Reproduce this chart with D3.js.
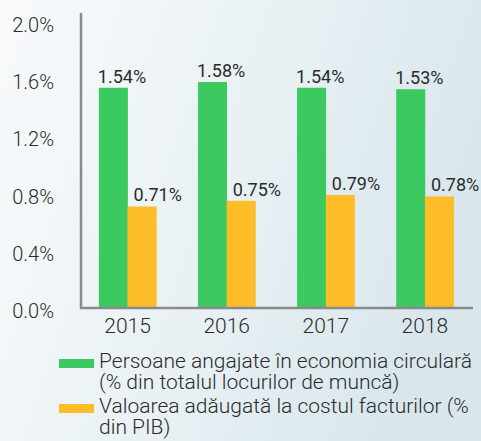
<!DOCTYPE html>
<html>
<head>
<meta charset="utf-8">
<script src="https://cdn.jsdelivr.net/npm/d3@7"></script>
<style>
  html, body { margin: 0; padding: 0; }
  body { width: 481px; height: 441px; overflow: hidden; }
  text { font-family: Roboto, "Noto Sans", sans-serif; fill: #2b2b2b; }
</style>
</head>
<body>
<svg id="chart" width="481" height="441"></svg>
<script>
const years = ["2015", "2016", "2017", "2018"]
const seriesNames = ["jobs", "gva"]
const jobsShare = [1.54, 1.58, 1.54, 1.53]
const valueAdded = [0.71, 0.75, 0.79, 0.78]
const yTicks = [0, 0.4, 0.8, 1.2, 1.6, 2.0]
const legendLines = [
    ["Persoane angajate în economia circulară", "(% din totalul locurilor de muncă)"],
    ["Valoarea adăugată la costul facturilor (%", "din PIB)"]
]
const colors = ["#3cc960", "#fdbd28"]

const svg = d3.select('#chart');

// soft background
const defs = svg.append('defs');
const grad = defs.append('linearGradient')
    .attr('id', 'bg')
    .attr('x1', 0).attr('y1', 0).attr('x2', 1).attr('y2', 0.3);
grad.append('stop').attr('offset', '0%').attr('stop-color', '#f8fafb');
grad.append('stop').attr('offset', '55%').attr('stop-color', '#e9f1f4');
grad.append('stop').attr('offset', '100%').attr('stop-color', '#d9e7ec');
svg.append('rect')
    .attr('width', 481).attr('height', 441)
    .attr('fill', 'url(#bg)');

const x = d3.scaleBand()
    .domain(years)
    .range([81, 471.5])
    .paddingInner(0.42)
    .paddingOuter(0.18);

const xs = d3.scaleBand()
    .domain(seriesNames)
    .range([0, x.bandwidth()]);

const y = d3.scaleLinear()
    .domain([0, 2])
    .range([308, 22]);

// y tick labels
svg.append('g')
    .selectAll('text')
    .data(yTicks)
    .enter()
    .append('text')
    .attr('x', 54)
    .attr('y', d => y(d))
    .attr('dy', '0.5em')
    .attr('text-anchor', 'end')
    .style('font-size', '20px')
    .style('font-weight', 300)
    .text(d => d3.format('.1f')(d) + '%');

const rows = years.map((yr, i) => ({year: yr, vals: [jobsShare[i], valueAdded[i]]}));

const groups = svg.append('g')
    .selectAll('g')
    .data(rows)
    .enter()
    .append('g')
    .attr('transform', d => `translate(${x(d.year)},0)`);

groups.selectAll('rect')
    .data(d => d.vals.map((v, k) => ({k: seriesNames[k], v: v, c: colors[k]})))
    .enter()
    .append('rect')
    .attr('x', d => xs(d.k))
    .attr('width', xs.bandwidth() + 0.3)
    .attr('y', d => y(d.v))
    .attr('height', d => y(0) - y(d.v))
    .attr('fill', d => d.c);

groups.selectAll('text.val')
    .data(d => d.vals.map((v, k) => ({k: seriesNames[k], v: v})))
    .enter()
    .append('text')
    .attr('class', 'val')
    .attr('x', d => xs(d.k) + (d.k == 'jobs' ? -1 : 6))
    .attr('y', d => y(d.v) - 5)
    .style('font-size', '18px')
    .text(d => d3.format('.2f')(d.v) + '%');

// axes lines
svg.append('line')
    .attr('x1', 81).attr('x2', 81)
    .attr('y1', 13).attr('y2', y(0) + 1)
    .attr('stroke', '#8a8a8a')
    .attr('stroke-width', 2.5);
svg.append('line')
    .attr('x1', 80).attr('x2', 473)
    .attr('y1', y(0)).attr('y2', y(0))
    .attr('stroke', '#8a8a8a')
    .attr('stroke-width', 2.5);

// year labels
svg.append('g')
    .selectAll('text')
    .data(years)
    .enter()
    .append('text')
    .attr('x', d => x(d) + x.bandwidth() / 2)
    .attr('y', 333)
    .attr('text-anchor', 'middle')
    .style('font-size', '21px')
    .style('font-weight', 300)
    .text(d => d);

// legend
const legend = svg.append('g')
    .selectAll('g')
    .data(legendLines)
    .enter()
    .append('g')
    .attr('transform', (d, i) => `translate(59,${359 + i * 45})`);

legend.append('rect')
    .attr('width', 35)
    .attr('height', 9)
    .attr('fill', (d, i) => colors[i]);

legend.append('text')
    .style('font-size', '21px')
    .style('font-weight', 300)
    .selectAll('tspan')
    .data(d => d)
    .enter()
    .append('tspan')
    .attr('x', 40)
    .attr('y', (d, j) => 9 + j * 21)
    .text(d => d);
</script>
</body>
</html>
